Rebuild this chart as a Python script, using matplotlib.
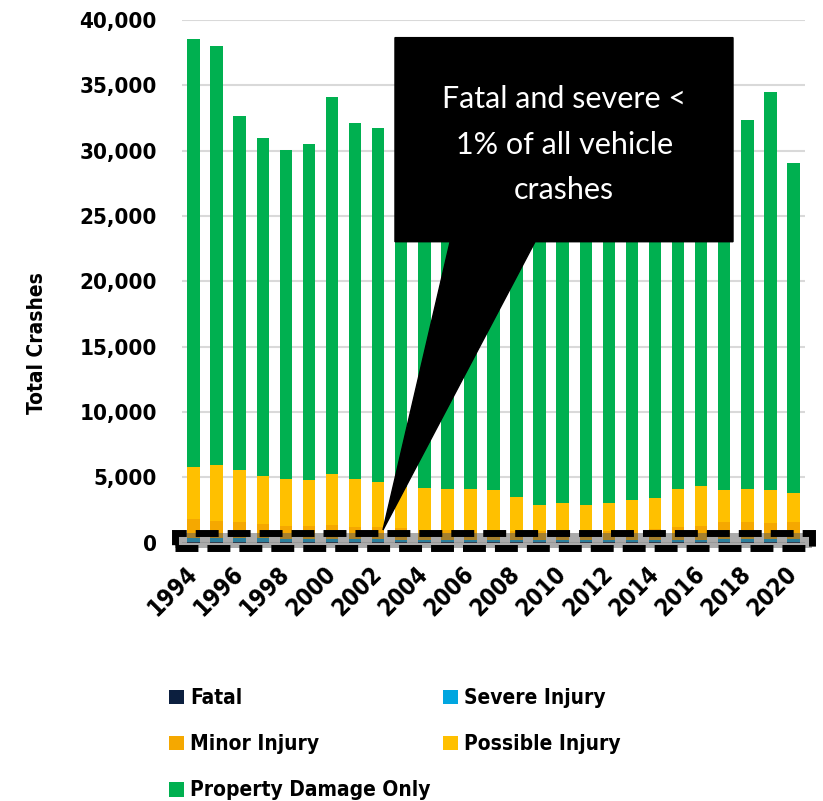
# crash_severity_chart.py
# Stacked crash counts by severity, 1994-2020
# callout + dashed box highlighting fatal/severe share

import numpy as np
import matplotlib
matplotlib.use('Agg')
import matplotlib.pyplot as plt
from matplotlib.patches import Rectangle, Polygon, Patch

years = list(range(1994, 2021))

# crashes by severity (middle years estimated)
fatal = [75, 70, 72, 68, 65, 66, 70, 68, 66, 62, 60, 58, 57, 55,
         50, 45, 46, 44, 47, 48, 50, 52, 55, 56, 54, 56, 60]
severe = [280, 270, 265, 250, 240, 235, 230, 225, 215, 170, 160, 150, 145, 140,
          130, 120, 115, 118, 120, 125, 130, 150, 180, 200, 195, 190, 185]
minor = [1430, 1340, 1245, 1105, 965, 970, 1070, 925, 890, 870, 780, 740, 750, 705,
         700, 695, 730, 720, 735, 785, 860, 970, 1065, 1345, 1305, 1235, 1355]
possible = [4030, 4240, 3980, 3700, 3630, 3525, 3860, 3680, 3450, 3150, 3210, 3150, 3130, 3120,
            2590, 2020, 2170, 2000, 2110, 2300, 2400, 2935, 3040, 2400, 2550, 2550, 2200]
pdo = [32740, 32120, 27110, 25850, 25170, 25740, 28880, 27220, 27120, 25520, 25290, 24600, 23920, 23580,
       22730, 21720, 21740, 22220, 22590, 23440, 24760, 26200, 27060, 27500, 28270, 30490, 25280]

series_names  = ['Fatal', 'Severe Injury', 'Minor Injury', 'Possible Injury', 'Property Damage Only']
series_colors = ['#0C1F3F', '#00A6E0', '#F5A800', '#FFC000', '#00B050']

y_ticks = [0, 5000, 10000, 15000, 20000, 25000, 30000, 35000, 40000]
callout_text = "Fatal and severe <\n1% of all vehicle\ncrashes"

BOLD = dict(family='DejaVu Sans', weight='bold', stretch='condensed')

fig = plt.figure(figsize=(8.23, 8.01), dpi=100)
ax = fig.add_axes([182 / 823, 1 - 542.6 / 801, (805 - 182) / 823, (542.6 - 20) / 801])

x = np.arange(len(years))
bottom = np.zeros(len(years))
for vals, name, col in zip([fatal, severe, minor, possible, pdo], series_names, series_colors):
    ax.bar(x, vals, width=0.54, bottom=bottom, color=col, label=name, zorder=2)
    bottom += np.array(vals)

ax.set_xlim(-0.5, len(years) - 0.5)
ax.set_ylim(0, 40000)
ax.set_yticks(y_ticks)
ax.set_yticklabels([f'{v:,}' for v in y_ticks], fontsize=16, **BOLD)
ax.yaxis.grid(True, color='#D9D9D9', linewidth=1.5, zorder=0)
ax.set_axisbelow(True)
for s in ax.spines.values():
    s.set_visible(False)
ax.tick_params(axis='y', length=0, pad=18)

# every other year on the x axis
ax.set_xticks(x[::2])
ax.set_xticklabels([str(y) for y in years[::2]], rotation=45, ha='right',
                   va='center', rotation_mode='anchor', fontsize=17, **BOLD)
ax.tick_params(axis='x', length=0, pad=20)

fig.text(37 / 823, 1 - 343 / 801, 'Total Crashes', rotation=90, ha='center',
         va='center', fontsize=15, **BOLD)

# dashed highlight box around fatal + severe band
hl = Rectangle((-0.8, -450), 27.6, 1150, facecolor='#595959', alpha=0.5,
               edgecolor='none', zorder=3, clip_on=False)
ax.add_patch(hl)
hl_edge = Rectangle((-0.8, -450), 27.6, 1150, facecolor='none', edgecolor='black',
                    linewidth=5, linestyle=(0, (3.3, 1.3)), zorder=4, clip_on=False)
ax.add_patch(hl_edge)

# speech-bubble callout pointing at the bottom band
bubble = Polygon([(8.73, 38650), (23.38, 38650), (23.38, 23030), (14.8, 23030),
                  (8.21, 965), (11.12, 23030), (8.73, 23030)],
                 closed=True, facecolor='black', edgecolor='black', zorder=6, clip_on=False)
ax.add_patch(bubble)
ax.text(16.06, 30460, callout_text, color='white', ha='center', va='center',
        fontsize=22, family='Lato', linespacing=1.75, zorder=7)

# legend, filled column-wise so rows read Fatal/Severe, Minor/Possible, PDO
order = [0, 2, 4, 1, 3]
handles = [Patch(facecolor=series_colors[i], label=series_names[i]) for i in order]
fig.legend(handles=handles, loc='upper left', bbox_to_anchor=(159 / 823, 1 - 678 / 801),
           ncol=2, frameon=False, borderpad=0, handlelength=0.7, handleheight=0.7,
           handletextpad=0.3, labelspacing=1.25, columnspacing=0.6,
           prop=dict(size=15, **BOLD))

fig.savefig('out.png', dpi=100)
